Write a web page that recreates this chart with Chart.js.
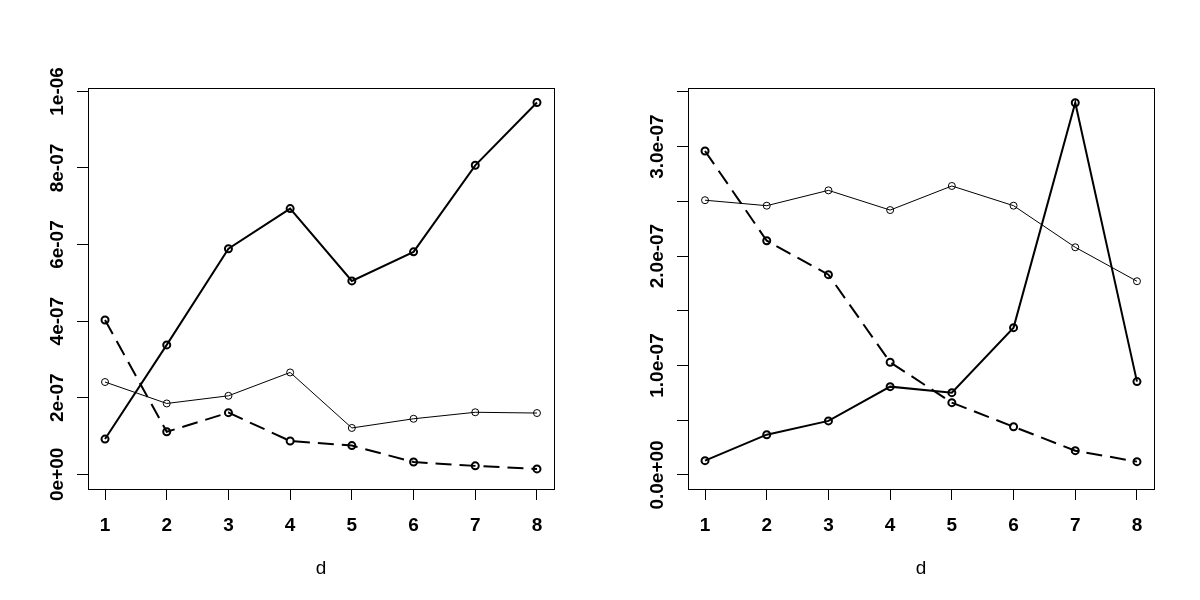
<!DOCTYPE html>
<html>
<head>
<meta charset="utf-8">
<script src="https://cdn.jsdelivr.net/npm/chart.js@4"></script>
<style>
    body { margin: 0; background: white; }
    .panel { position: absolute; top: 0; width: 600px; height: 600px; }
</style>
</head>
<body>
<div class="panel" style="left: 0px;"><canvas id="leftChart" width="600" height="600"></canvas></div>
<div class="panel" style="left: 600px;"><canvas id="rightChart" width="600" height="600"></canvas></div>
<script>
const d = [1, 2, 3, 4, 5, 6, 7, 8];

// left panel
const leftBold = [0.92e-7, 3.38e-7, 5.89e-7, 6.94e-7, 5.05e-7, 5.81e-7, 8.07e-7, 9.71e-7];
const leftThin = [2.41e-7, 1.85e-7, 2.05e-7, 2.66e-7, 1.21e-7, 1.45e-7, 1.62e-7, 1.60e-7];
const leftDash = [4.03e-7, 1.11e-7, 1.61e-7, 0.87e-7, 0.75e-7, 0.32e-7, 0.22e-7, 0.14e-7];
const leftTicks = [0, 2e-7, 4e-7, 6e-7, 8e-7, 1e-6];
const leftLabels = ['0e+00', '2e-07', '4e-07', '6e-07', '8e-07', '1e-06'];

// right panel
const rightBold = [0.131e-7, 0.368e-7, 0.494e-7, 0.807e-7, 0.752e-7, 1.346e-7, 3.40e-7, 0.853e-7];
const rightThin = [2.51e-7, 2.46e-7, 2.60e-7, 2.42e-7, 2.64e-7, 2.46e-7, 2.08e-7, 1.77e-7];
const rightDash = [2.96e-7, 2.14e-7, 1.83e-7, 1.03e-7, 0.661e-7, 0.441e-7, 0.222e-7, 0.122e-7];
const rightTicks = [0, 0.5e-7, 1e-7, 1.5e-7, 2e-7, 2.5e-7, 3e-7, 3.5e-7];
const rightLabels = ['0.0e+00', '', '1.0e-07', '', '2.0e-07', '', '3.0e-07', ''];

const FONT = "'Liberation Sans', Arial, sans-serif";

// draws the R style box round the plot region
const boxPlugin = {
    id: 'box',
    afterDraw(chart) {
        const a = chart.chartArea;
        const ctx = chart.ctx;
        ctx.save();
        ctx.strokeStyle = 'black';
        ctx.lineWidth = 1;
        ctx.strokeRect(Math.round(a.left) + 0.5, Math.round(a.top) + 0.5,
                       Math.round(a.right - a.left), Math.round(a.bottom - a.top));
        ctx.restore();
    }
};

function series(values, width, dash)
{
    return {
        data: d.map((x, i) => ({ x: x, y: values[i] })),
        borderColor: 'black',
        borderWidth: width,
        borderDash: dash,
        pointRadius: 3.5,
        pointBorderWidth: width,
        pointBorderColor: 'black',
        pointBackgroundColor: 'rgba(0,0,0,0)',
        tension: 0,
        fill: false,
    };
}

function makeChart(canvas, bold, thin, dash, yMin, yMax, yTicks, yLabels, labelPad)
{
    return new Chart(canvas, {
        type: 'line',
        data: {
            datasets: [
                series(thin, 1, []),
                series(dash, 2, [16, 8]),
                series(bold, 2, []),
            ]
        },
        plugins: [boxPlugin],
        options: {
            responsive: false,
            animation: false,
            devicePixelRatio: 1,
            layout: { padding: { top: 88, right: 46, left: 0, bottom: 0 } },
            plugins: { legend: { display: false }, tooltip: { enabled: false } },
            scales: {
                x: {
                    type: 'linear',
                    min: 0.724,
                    max: 8.276,
                    afterBuildTicks: (scale) => { scale.ticks = d.map(v => ({ value: v })); },
                    afterFit: (scale) => { scale.height = 111; },
                    border: { display: false },
                    grid: { drawOnChartArea: false, drawTicks: true, tickLength: 11, color: 'black', lineWidth: 1 },
                    ticks: {
                        autoSkip: false,
                        maxRotation: 0,
                        color: 'black',
                        padding: 14,
                        font: { family: FONT, size: 19, weight: 'bold' },
                        callback: (v) => String(v),
                    },
                    title: {
                        display: true,
                        text: 'd',
                        color: 'black',
                        padding: { top: 0, bottom: 20 },
                        font: { family: FONT, size: 19 },
                    }
                },
                y: {
                    type: 'linear',
                    min: yMin,
                    max: yMax,
                    afterBuildTicks: (scale) => { scale.ticks = yTicks.map(v => ({ value: v })); },
                    afterFit: (scale) => { scale.width = 88; },
                    border: { display: false },
                    grid: { drawOnChartArea: false, drawTicks: true, tickLength: 11, color: 'black', lineWidth: 1 },
                    ticks: {
                        autoSkip: false,
                        minRotation: 90,
                        maxRotation: 90,
                        crossAlign: 'center',
                        padding: labelPad,
                        color: 'black',
                        font: { family: FONT, size: 19, weight: 'bold' },
                        callback: (v, i) => yLabels[i],
                    }
                }
            }
        }
    });
}

makeChart(document.getElementById('leftChart'), leftBold, leftThin, leftDash,
          -3.84e-8, 1.0089e-6, leftTicks, leftLabels, -7.7);
makeChart(document.getElementById('rightChart'), rightBold, rightThin, rightDash,
          -1.28e-8, 3.535e-7, rightTicks, rightLabels, -15.6);
</script>
</body>
</html>
